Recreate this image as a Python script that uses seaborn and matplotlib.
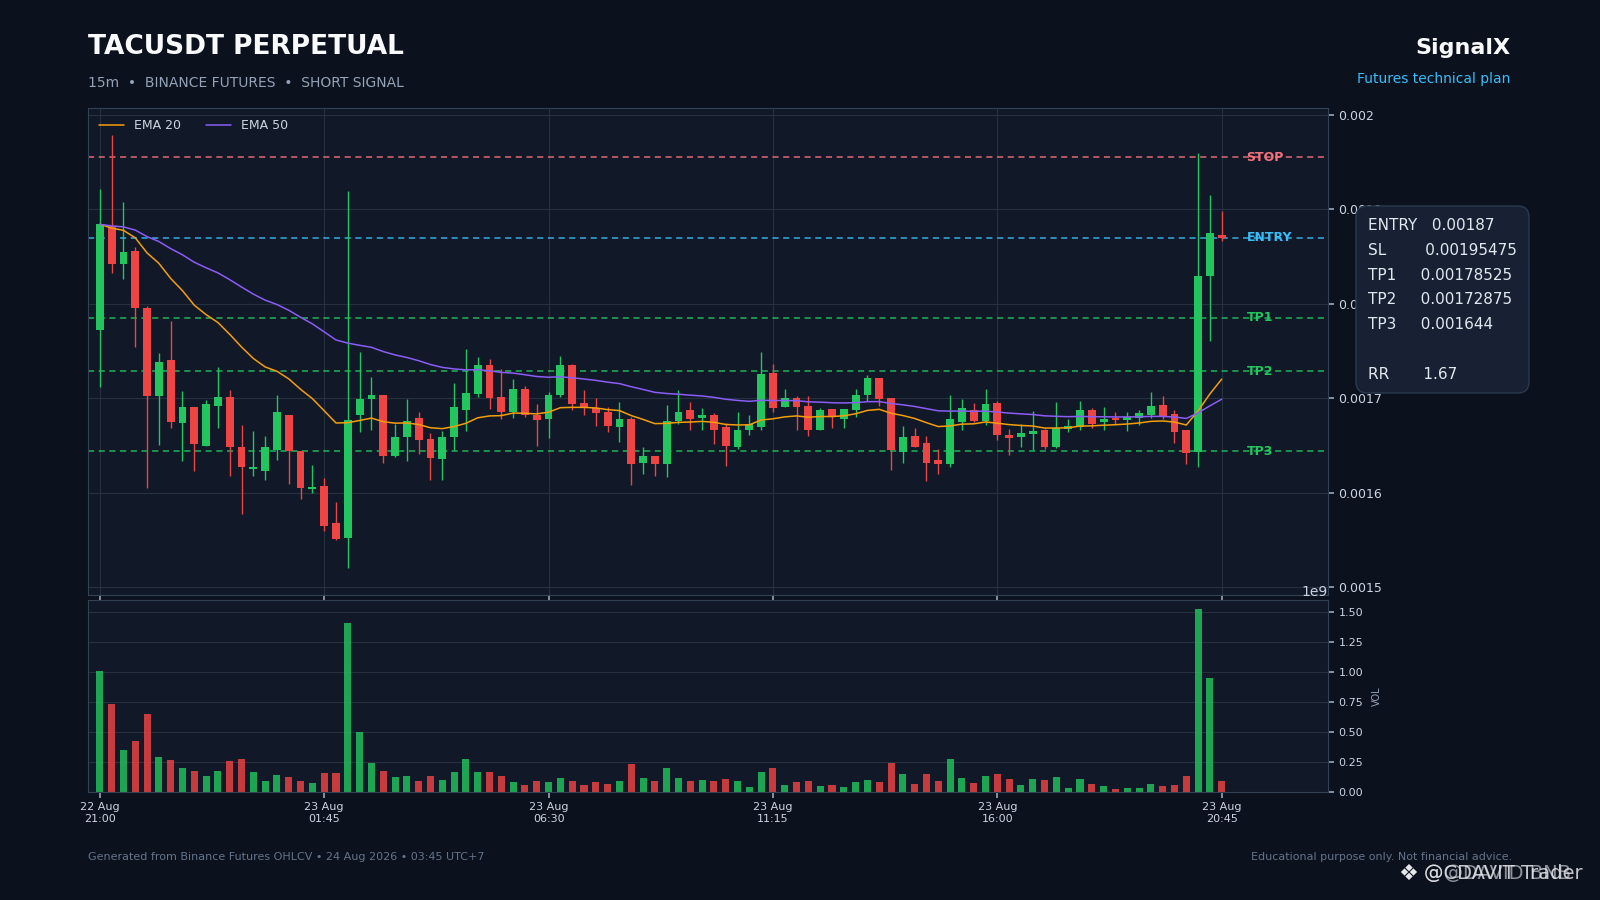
import numpy as np
import pandas as pd
import matplotlib
matplotlib.use("Agg")
import matplotlib.pyplot as plt
from matplotlib.patches import FancyBboxPatch
from matplotlib.ticker import MultipleLocator, FuncFormatter
from matplotlib.transforms import IdentityTransform
import seaborn as sns

# OHLC in units of 1e-6 USDT, 15m candles 22 Aug 21:00 -> 23 Aug 20:45
opens = [1772, 1882, 1842, 1856, 1795, 1702, 1741, 1674, 1691, 1650,
         1692, 1701, 1648, 1625, 1623, 1645, 1682, 1644, 1604, 1607,
         1568, 1552, 1682, 1699, 1703, 1639, 1659, 1679, 1657, 1636,
         1659, 1688, 1705, 1735, 1701, 1686, 1710, 1682, 1678, 1703,
         1735, 1695, 1690, 1685, 1670, 1678, 1632, 1639, 1631, 1676,
         1688, 1679, 1682, 1670, 1649, 1666, 1670, 1727, 1691, 1700,
         1692, 1667, 1689, 1678, 1688, 1703, 1721, 1700, 1643, 1660,
         1653, 1635, 1631, 1675, 1688, 1676, 1695, 1661, 1659, 1662,
         1667, 1648, 1668, 1670, 1688, 1675, 1679, 1677, 1679, 1682,
         1693, 1683, 1667, 1643, 1829, 1873]
highs = [1921, 1978, 1908, 1860, 1798, 1748, 1782, 1708, 1691, 1698,
         1733, 1709, 1672, 1665, 1660, 1703, 1682, 1644, 1629, 1616,
         1590, 1919, 1749, 1722, 1703, 1673, 1699, 1685, 1663, 1665,
         1716, 1752, 1744, 1742, 1731, 1720, 1713, 1694, 1707, 1745,
         1736, 1709, 1700, 1691, 1696, 1680, 1649, 1639, 1693, 1709,
         1696, 1690, 1684, 1674, 1685, 1682, 1749, 1736, 1710, 1702,
         1702, 1690, 1689, 1689, 1710, 1725, 1721, 1700, 1671, 1669,
         1660, 1646, 1704, 1699, 1695, 1710, 1697, 1668, 1673, 1687,
         1668, 1696, 1678, 1697, 1690, 1691, 1686, 1686, 1688, 1707,
         1702, 1688, 1667, 1959, 1915, 1898]
lows = [1712, 1832, 1826, 1754, 1605, 1651, 1669, 1634, 1623, 1650,
        1669, 1618, 1578, 1618, 1614, 1635, 1609, 1593, 1600, 1560,
        1550, 1521, 1664, 1666, 1632, 1638, 1634, 1641, 1614, 1614,
        1645, 1665, 1701, 1689, 1678, 1679, 1680, 1650, 1658, 1701,
        1688, 1682, 1671, 1664, 1654, 1608, 1620, 1618, 1617, 1673,
        1667, 1666, 1652, 1628, 1646, 1661, 1667, 1686, 1691, 1667,
        1660, 1667, 1669, 1669, 1680, 1697, 1692, 1624, 1632, 1648,
        1613, 1620, 1627, 1666, 1675, 1672, 1656, 1640, 1649, 1645,
        1646, 1647, 1664, 1667, 1669, 1666, 1673, 1665, 1672, 1679,
        1678, 1653, 1631, 1627, 1761, 1866]
closes = [1884, 1842, 1855, 1795, 1702, 1738, 1675, 1691, 1652, 1694,
          1701, 1649, 1627, 1627, 1648, 1685, 1644, 1605, 1606, 1565,
          1551, 1677, 1699, 1703, 1639, 1659, 1676, 1656, 1637, 1659,
          1691, 1706, 1735, 1700, 1685, 1710, 1682, 1677, 1703, 1735,
          1694, 1690, 1684, 1671, 1678, 1631, 1639, 1631, 1676, 1685,
          1678, 1682, 1666, 1650, 1667, 1673, 1726, 1690, 1700, 1691,
          1667, 1688, 1680, 1689, 1704, 1721, 1699, 1645, 1659, 1649,
          1632, 1631, 1678, 1690, 1676, 1694, 1661, 1658, 1663, 1665,
          1648, 1669, 1671, 1688, 1673, 1678, 1677, 1680, 1684, 1692,
          1680, 1664, 1642, 1829, 1875, 1869]
# volume in billions
volumes = [1.011, 0.736, 0.353, 0.428, 0.653, 0.294, 0.269, 0.203, 0.178, 0.136,
           0.178, 0.261, 0.278, 0.169, 0.094, 0.144, 0.128, 0.094, 0.078, 0.161,
           0.161, 1.411, 0.500, 0.244, 0.178, 0.128, 0.136, 0.094, 0.136, 0.103,
           0.169, 0.278, 0.169, 0.169, 0.136, 0.086, 0.061, 0.094, 0.086, 0.119,
           0.094, 0.061, 0.086, 0.069, 0.094, 0.236, 0.119, 0.094, 0.203, 0.119,
           0.094, 0.103, 0.094, 0.111, 0.094, 0.044, 0.169, 0.203, 0.061, 0.086,
           0.094, 0.053, 0.061, 0.044, 0.086, 0.103, 0.086, 0.244, 0.153, 0.069,
           0.153, 0.094, 0.278, 0.119, 0.078, 0.136, 0.153, 0.111, 0.061, 0.111,
           0.103, 0.128, 0.036, 0.111, 0.069, 0.053, 0.028, 0.036, 0.036, 0.069,
           0.053, 0.061, 0.136, 1.528, 0.953, 0.094]

tick_pos = [0, 19, 38, 57, 76, 95]
tick_labels = ["22 Aug\n21:00", "23 Aug\n01:45", "23 Aug\n06:30",
               "23 Aug\n11:15", "23 Aug\n16:00", "23 Aug\n20:45"]

level_names = ["STOP", "ENTRY", "TP1", "TP2", "TP3"]
level_values = [0.00195475, 0.00187, 0.00178525, 0.00172875, 0.001644]
level_colors = ["#f7727f", "#38bdf8", "#22c55e", "#22c55e", "#22c55e"]

box_lines = ["ENTRY   0.00187", "SL        0.00195475", "TP1     0.00178525",
             "TP2     0.00172875", "TP3     0.001644", "", "RR       1.67"]

BG = "#0b111d"
PANEL = "#111827"
GRID = "#253041"
SPINE = "#334155"
UP = "#22c55e"
DOWN = "#ef4444"
TXT = "#cbd5e1"

df = pd.DataFrame({"o": opens, "h": highs, "l": lows, "c": closes}) * 1e-6
df["vol"] = np.array(volumes) * 1e9
df["i"] = np.arange(len(df))
df["dir"] = np.where(df.c >= df.o, "up", "down")
df["ema20"] = df.c.ewm(span=20, adjust=False).mean()
df["ema50"] = df.c.ewm(span=50, adjust=False).mean()

sns.set_theme(style="dark")
plt.rcParams["font.family"] = ["DejaVu Sans"]

fig = plt.figure(figsize=(16, 9), dpi=100, facecolor=BG)
ax = fig.add_axes([0.055, 0.3389, 0.775, 0.5411], facecolor=PANEL)
axv = fig.add_axes([0.055, 0.12, 0.775, 0.2133], facecolor=PANEL, sharex=ax)

# candles
cols = np.where(df.dir == "up", UP, DOWN)
ax.vlines(df.i, df.l, df.h, colors=cols, linewidth=1.0, zorder=2)
body_bot = np.minimum(df.o, df.c)
body_h = np.maximum((df.c - df.o).abs(), 1.5e-6)
ax.bar(df.i, body_h, bottom=body_bot, width=0.66, color=cols, linewidth=0, zorder=2)

sns.lineplot(x=df.i, y=df.ema20, ax=ax, color="#f59e0b", linewidth=1.1, label="EMA 20", zorder=3)
sns.lineplot(x=df.i, y=df.ema50, ax=ax, color="#8b5cf6", linewidth=1.1, label="EMA 50", zorder=3)

for name, val, col in zip(level_names, level_values, level_colors):
    ax.axhline(val, color=col, linestyle=(0, (4, 3)), linewidth=1.1, alpha=0.9, zorder=1)
    ax.text(97.1, val, name, color=col, fontsize=9, fontweight="bold", va="center", ha="left")

ax.set_xlim(-1, 104)
ax.set_ylim(0.001492, 0.002007)
ax.yaxis.set_major_locator(MultipleLocator(0.0001))
ax.yaxis.set_major_formatter(FuncFormatter(lambda v, p: f"{v:g}"))
ax.yaxis.tick_right()
ax.set_xlabel("")
ax.set_ylabel("")
ax.tick_params(axis="x", labelbottom=False, colors="#94a3b8", length=4, bottom=True)
ax.tick_params(axis="y", labelsize=9, labelcolor=TXT, colors="#94a3b8", length=4, right=True)
ax.grid(True, color=GRID, linewidth=0.8)
leg = ax.legend(loc="upper left", frameon=False, fontsize=9, labelcolor=TXT, ncol=2,
                handlelength=2.0, columnspacing=2.0)

# volume
sns.barplot(data=df, x="i", y="vol", hue="dir", palette={"up": UP, "down": DOWN},
            native_scale=True, dodge=False, width=0.6, errorbar=None, legend=False,
            alpha=0.82, linewidth=0, saturation=1, ax=axv)
axv.set_xlim(-1, 104)
axv.set_ylim(0, 1.6e9)
axv.yaxis.set_major_locator(MultipleLocator(0.25e9))
axv.yaxis.tick_right()
axv.yaxis.set_label_position("right")
axv.yaxis.set_offset_position("right")
axv.yaxis.get_offset_text().set_color(TXT)
axv.yaxis.get_offset_text().set_fontsize(10)
axv.set_ylabel("VOL", color="#94a3b8", fontsize=7, labelpad=6)
axv.set_xlabel("")
axv.set_xticks(tick_pos)
axv.set_xticklabels(tick_labels)
axv.tick_params(axis="x", labelsize=8, labelcolor=TXT, colors="#94a3b8", length=4, bottom=True)
axv.tick_params(axis="y", labelsize=8, labelcolor=TXT, colors="#94a3b8", length=4, right=True)
axv.grid(True, axis="y", color=GRID, linewidth=0.8)
axv.grid(False, axis="x")

for a in (ax, axv):
    for s in a.spines.values():
        s.set_color(SPINE)
        s.set_linewidth(0.8)
        s.set_visible(True)

# header
fig.text(0.055, 0.94, "TACUSDT PERPETUAL", color="#f8fafc", fontsize=19, fontweight="bold", va="baseline")
fig.text(0.055, 0.9033, "15m  \u2022  BINANCE FUTURES  \u2022  SHORT SIGNAL", color="#94a3b8",
         fontsize=10, va="baseline")
fig.text(0.944, 0.94, "SignalX", color="#f8fafc", fontsize=16, fontweight="bold", va="baseline", ha="right")
fig.text(0.944, 0.9078, "Futures technical plan", color="#38bdf8", fontsize=10, va="baseline", ha="right")

# info box
box = FancyBboxPatch((1356, 900 - 393), 173, 187, boxstyle="round,pad=0,rounding_size=11",
                     transform=IdentityTransform(), facecolor="#172133", edgecolor="#2b3a4f",
                     linewidth=1.0, zorder=5)
fig.add_artist(box)
for k, line in enumerate(box_lines):
    fig.text(1368 / 1600, 1 - (230 + 24.8 * k) / 900, line, color="#e2e8f0", fontsize=11,
             va="baseline", ha="left", zorder=6)

# footer
fig.text(0.055, 0.0444, "Generated from Binance Futures OHLCV \u2022 24 Aug 2026 \u2022 03:45 UTC+7",
         color="#64748b", fontsize=8, va="baseline")
fig.text(0.945, 0.0444, "Educational purpose only. Not financial advice.", color="#64748b",
         fontsize=8, va="baseline", ha="right")

# watermark
fig.text(0.880, 0.029, "\u2756", color="#e5e7eb", fontsize=16, va="center", ha="center")
fig.text(0.890, 0.029, "@CDAVIT Trader", color="#e5e7eb", fontsize=14, va="center", ha="left", alpha=0.85)
fig.text(0.890, 0.029, "@@DAVID BNB", color="#e5e7eb", fontsize=14, va="center", ha="left", alpha=0.6)

fig.savefig("out.png", dpi=100, facecolor=BG)
